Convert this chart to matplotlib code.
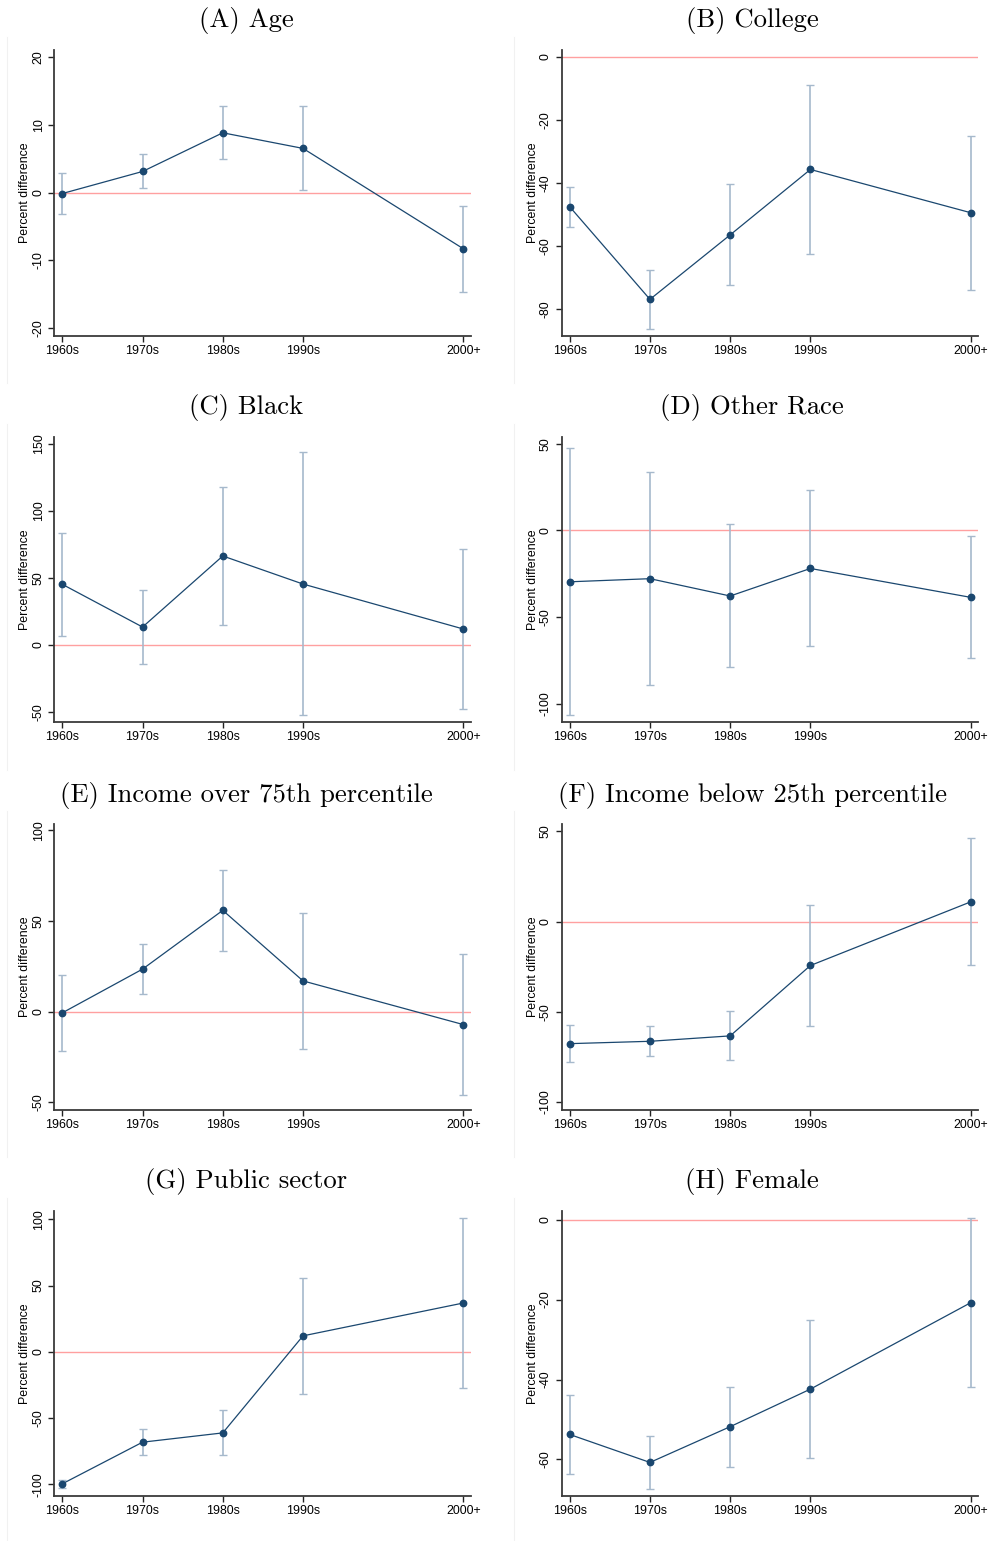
import matplotlib
matplotlib.use("Agg")
import matplotlib.pyplot as plt
from matplotlib.lines import Line2D

decades = ["1960s", "1970s", "1980s", "1990s", "2000+"]
xpos = [0, 1, 2, 3, 5]

titles = ["(A) Age", "(B) College", "(C) Black", "(D) Other Race",
          "(E) Income over 75th percentile", "(F) Income below 25th percentile",
          "(G) Public sector", "(H) Female"]

age_est = [-0.15, 3.1, 8.8, 6.5, -8.3]
age_lo = [-3.2, 0.6, 4.9, 0.4, -14.6]
age_hi = [2.9, 5.7, 12.75, 12.75, -2.0]

college_est = [-47.5, -76.8, -56.4, -35.7, -49.4]
college_lo = [-53.8, -86.1, -72.1, -62.5, -73.9]
college_hi = [-41.3, -67.6, -40.4, -8.9, -25.0]

black_est = [45.2, 13.4, 66.3, 45.4, 11.9]
black_lo = [6.7, -13.9, 15.1, -52.4, -47.6]
black_hi = [83.6, 40.7, 117.6, 143.4, 71.2]

other_est = [-29.7, -27.9, -37.9, -22.0, -38.7]
other_lo = [-106.9, -89.2, -79.1, -66.6, -73.8]
other_hi = [47.6, 33.7, 3.5, 23.1, -3.5]

inc75_est = [-0.7, 23.4, 55.8, 16.9, -7.2]
inc75_lo = [-21.5, 9.6, 33.5, -20.4, -45.8]
inc75_hi = [19.9, 37.2, 78.2, 54.5, 31.7]

inc25_est = [-67.6, -66.3, -63.3, -24.3, 11.0]
inc25_lo = [-78.0, -74.7, -76.8, -58.0, -24.3]
inc25_hi = [-57.1, -57.8, -49.7, 9.4, 46.4]

public_est = [-99.5, -68.1, -61.1, 12.1, 36.9]
public_lo = [-103.0, -78.1, -77.9, -31.7, -27.1]
public_hi = [-96.5, -58.0, -44.0, 55.8, 101.3]

female_est = [-53.75, -60.75, -51.8, -42.4, -20.75]
female_lo = [-63.7, -67.4, -61.9, -59.7, -41.9]
female_hi = [-43.8, -54.1, -41.75, -25.2, 0.5]

yticks = [[-20, -10, 0, 10, 20], [-80, -60, -40, -20, 0], [-50, 0, 50, 100, 150],
          [-100, -50, 0, 50], [-50, 0, 50, 100], [-100, -50, 0, 50],
          [-100, -50, 0, 50, 100], [-60, -40, -20, 0]]
ylims = [(-21.1, 21.0), (-88.3, 2.1), (-57.6, 155.1), (-110.9, 54.1),
         (-54.1, 103.4), (-104.2, 54.1), (-109.0, 106.5), (-69.25, 2.25)]

series = [(age_est, age_lo, age_hi), (college_est, college_lo, college_hi),
          (black_est, black_lo, black_hi), (other_est, other_lo, other_hi),
          (inc75_est, inc75_lo, inc75_hi), (inc25_est, inc25_lo, inc25_hi),
          (public_est, public_lo, public_hi), (female_est, female_lo, female_hi)]

W, H = 989, 1541
fig = plt.figure(figsize=(W / 100, H / 100), dpi=100)

navy = "#1a476f"
ci_col = "#a6b9cc"
red = "#ffa0a0"
spine_col = "#3a3a3a"

lefts = [54.3, 561.7]
tops = [50, 436.7, 824.0, 1210.7]
aw, ah = 416.4, 285.7
region_left = [7, 514]
title_cx = [246, 752]
fs = 8.9

for i, (est, lo, hi) in enumerate(series):
    r, c = divmod(i, 2)
    l = lefts[c]
    t = tops[r]
    ax = fig.add_axes([l / W, 1 - (t + ah) / H, aw / W, ah / H])
    ax.axhline(0, color=red, lw=1.0, zorder=1)
    yerr = [[e - a for e, a in zip(est, lo)], [b - e for e, b in zip(est, hi)]]
    ax.errorbar(xpos, est, yerr=yerr, fmt="none", ecolor=ci_col, elinewidth=1.2,
                capsize=2.6, capthick=1.0, zorder=2)
    ax.plot(xpos, est, color=navy, lw=0.9, marker="o", ms=4.6, mfc=navy, mec=navy, zorder=3)
    ax.set_xlim(-0.1, 5.09)
    ax.set_ylim(*ylims[i])
    ax.set_xticks(xpos)
    ax.set_xticklabels(decades, fontsize=fs, family="Liberation Sans")
    ax.set_yticks(yticks[i])
    ax.set_yticklabels([str(v) for v in yticks[i]], fontsize=fs, family="Liberation Sans",
                       rotation=90, va="center")
    ax.set_ylabel("Percent difference", fontsize=fs, family="Liberation Sans", labelpad=1)
    for s in ["top", "right"]:
        ax.spines[s].set_visible(False)
    for s in ["left", "bottom"]:
        ax.spines[s].set_color(spine_col)
        ax.spines[s].set_linewidth(1.3)
    ax.tick_params(axis="both", length=4, width=1.0, color="#222222", pad=2.5)
    ax.tick_params(axis="y", pad=3)
    fig.text(title_cx[c] / W, 1 - (t - 29) / H, titles[i], ha="center", va="center",
             fontsize=19.2, family="cmr10")
    fig.add_artist(Line2D([region_left[c] / W] * 2,
                          [1 - (t - 13) / H, 1 - (t + 333) / H],
                          color="#f1f1f1", lw=0.8))

fig.savefig("out.png", dpi=100)
